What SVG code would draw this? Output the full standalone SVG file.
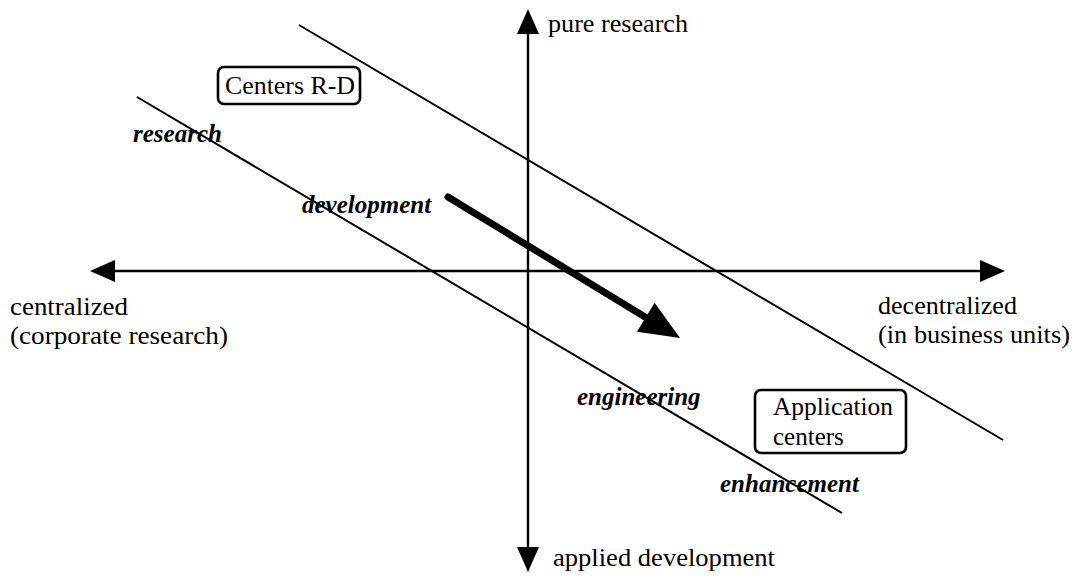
<svg xmlns="http://www.w3.org/2000/svg" width="1083" height="578" viewBox="0 0 1083 578">
<style>
  .t { font-family: "Liberation Serif", "Times New Roman", serif; font-size: 25px; fill: #000; }
  .i { font-style: italic; font-weight: bold; }
  .ax { stroke: #000; stroke-width: 2.4; fill: none; }
  .dg { stroke: #000; stroke-width: 2; fill: none; }
  .box { stroke: #000; stroke-width: 2.6; fill: #fff; }
</style>
<defs>
  <marker id="ah" viewBox="0 0 25 22" markerWidth="25" markerHeight="22" markerUnits="userSpaceOnUse" refX="1" refY="11" orient="auto-start-reverse">
    <path d="M0,0 L25,11 L0,22 z" fill="#000"/>
  </marker>
</defs>
<rect width="1083" height="578" fill="#fff"/>
<g id="connectors">
  <line class="ax" x1="528" y1="33" x2="528" y2="548" marker-start="url(#ah)" marker-end="url(#ah)"/>
  <line class="ax" x1="114" y1="271" x2="981" y2="271" marker-start="url(#ah)" marker-end="url(#ah)"/>
  <line class="dg" x1="299" y1="25" x2="1003" y2="440"/>
  <line class="dg" x1="137" y1="97" x2="842" y2="513"/>
  <g id="trend-arrow">
    <line x1="448" y1="197" x2="650" y2="320" stroke="#000" stroke-width="7" stroke-linecap="round"/>
    <polygon points="680,338 654.6,302.7 637,331.7" fill="#000"/>
  </g>
</g>
<g id="axis-labels">
  <text class="t" x="548" y="32" textLength="140" lengthAdjust="spacingAndGlyphs">pure research</text>
  <text class="t" x="553" y="566" textLength="222" lengthAdjust="spacingAndGlyphs">applied development</text>
  <text class="t" x="10" y="315" textLength="118" lengthAdjust="spacingAndGlyphs">centralized</text>
  <text class="t" x="10" y="344" textLength="218" lengthAdjust="spacingAndGlyphs">(corporate research)</text>
  <text class="t" x="878" y="314" textLength="139" lengthAdjust="spacingAndGlyphs">decentralized</text>
  <text class="t" x="878" y="343" textLength="192" lengthAdjust="spacingAndGlyphs">(in business units)</text>
</g>
<g id="line-labels">
  <text class="t i" x="133" y="142">research</text>
  <text class="t i" x="302" y="213">development</text>
  <text class="t i" x="577" y="405">engineering</text>
  <text class="t i" x="720" y="492">enhancement</text>
</g>
<g id="node-centers-rd">
  <rect class="box" x="218" y="67" width="142" height="37" rx="6"/>
  <text class="t" x="225" y="94" textLength="130" lengthAdjust="spacingAndGlyphs">Centers R-D</text>
</g>
<g id="node-application-centers">
  <rect class="box" x="755" y="390" width="151" height="63" rx="6"/>
  <text class="t" x="773" y="415" textLength="120" lengthAdjust="spacingAndGlyphs">Application</text>
  <text class="t" x="773" y="445">centers</text>
</g>
</svg>
